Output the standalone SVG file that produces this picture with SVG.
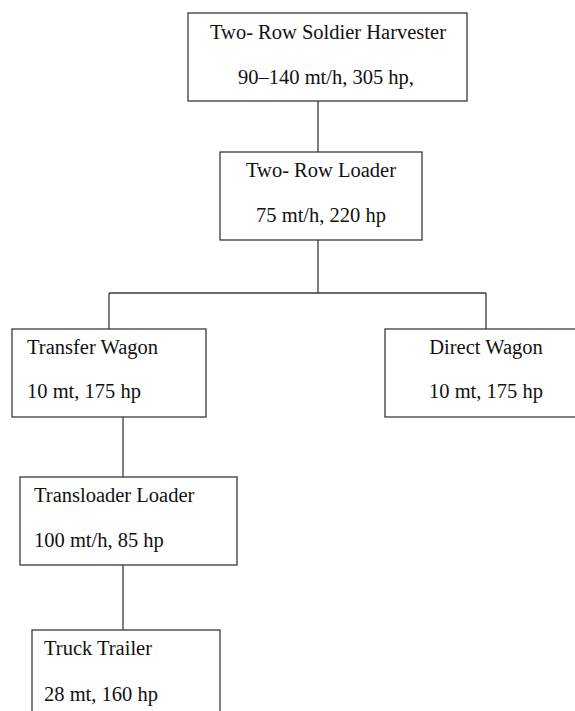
<svg xmlns="http://www.w3.org/2000/svg" width="575" height="711" viewBox="0 0 575 711">
<style>
  .box { fill: #ffffff; stroke: #3a3a3a; stroke-width: 1.3; }
  .conn { fill: none; stroke: #3a3a3a; stroke-width: 1.3; }
  text { font-family: "Liberation Serif", "Times New Roman", serif; font-size: 20.5px; fill: #111111; }
  .c { text-anchor: middle; }
</style>
<rect x="0" y="0" width="575" height="711" fill="#ffffff"/>
<g id="connectors">
  <line class="conn" x1="318" y1="101" x2="318" y2="152"/>
  <line class="conn" x1="318" y1="240" x2="318" y2="293"/>
  <line class="conn" x1="109" y1="293" x2="486" y2="293"/>
  <line class="conn" x1="109" y1="293" x2="109" y2="329"/>
  <line class="conn" x1="486" y1="293" x2="486" y2="329"/>
  <line class="conn" x1="123" y1="417" x2="123" y2="477"/>
  <line class="conn" x1="123" y1="565" x2="123" y2="630"/>
</g>
<g id="harvester">
  <rect class="box" x="188" y="13" width="279" height="88"/>
  <text class="c" x="328" y="39">Two- Row Soldier Harvester</text>
  <text class="c" x="326" y="84">90–140 mt/h, 305 hp,</text>
</g>
<g id="loader">
  <rect class="box" x="220" y="152" width="202" height="88"/>
  <text class="c" x="321" y="177">Two- Row Loader</text>
  <text class="c" x="321" y="222">75 mt/h, 220 hp</text>
</g>
<g id="transfer-wagon">
  <rect class="box" x="12" y="329" width="194" height="88"/>
  <text x="27" y="354">Transfer Wagon</text>
  <text x="27" y="398">10 mt, 175 hp</text>
</g>
<g id="direct-wagon">
  <rect class="box" x="385" y="329" width="195" height="88"/>
  <text class="c" x="486" y="354">Direct Wagon</text>
  <text class="c" x="486" y="398">10 mt, 175 hp</text>
</g>
<g id="transloader">
  <rect class="box" x="20" y="477" width="217" height="88"/>
  <text x="34" y="502">Transloader Loader</text>
  <text x="34" y="547">100 mt/h, 85 hp</text>
</g>
<g id="truck-trailer">
  <rect class="box" x="32" y="630" width="188" height="100"/>
  <text x="44" y="655">Truck Trailer</text>
  <text x="44" y="701">28 mt, 160 hp</text>
</g>
</svg>
